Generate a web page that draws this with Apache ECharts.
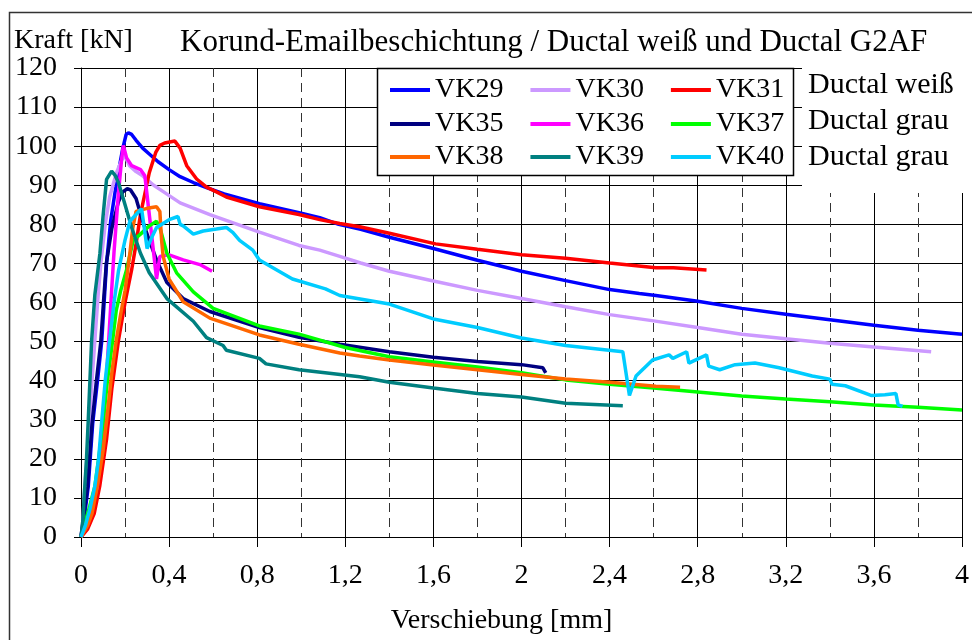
<!DOCTYPE html>
<html><head><meta charset="utf-8">
<script src="https://cdn.jsdelivr.net/npm/echarts@6/dist/echarts.min.js"></script>
<style>html,body{margin:0;padding:0;background:#fff}#c{width:972px;height:640px}</style>
</head><body><div id="c"></div>
<script>
// ---- data ----
const titleText = 'Korund-Emailbeschichtung / Ductal weiß und Ductal G2AF';
const yAxisName = 'Kraft [kN]';
const xAxisName = 'Verschiebung [mm]';
const groupLabels = ['Ductal weiß', 'Ductal grau', 'Ductal grau'];
const seriesNames = ['VK29','VK30','VK31','VK35','VK36','VK37','VK38','VK39','VK40'];
const seriesColors = ['#0000FF','#CC99FF','#FF0000','#000080','#FF00FF','#00FF00','#FF6600','#008080','#00CCFF'];

const vk29 = [[0,0],[0.015,5],[0.033,13],[0.053,29],[0.075,40],[0.094,50],[0.105,60],[0.116,70],[0.135,81],[0.154,88],[0.175,95],[0.19,99.5],[0.205,103],[0.215,103.4],[0.23,103],[0.25,101.5],[0.28,99.5],[0.31,98],[0.35,96],[0.40,94],[0.45,92.2],[0.51,90.7],[0.57,89.4],[0.65,87.8],[0.81,85.3],[0.99,83],[1.084,81.7],[1.17,80],[1.27,78.7],[1.40,76.7],[1.60,73.8],[1.80,70.8],[2.0,68],[2.2,65.6],[2.4,63.3],[2.535,62.3],[2.61,61.8],[2.8,60.3],[3.0,58.5],[3.2,57],[3.4,55.6],[3.6,54.2],[3.8,52.9],[4.0,51.9]];
const vk30 = [[0,0],[0.01,5],[0.014,10],[0.033,25],[0.05,40],[0.065,52],[0.078,62],[0.09,70],[0.11,80],[0.13,87],[0.16,93],[0.185,96.5],[0.2,97.5],[0.22,95],[0.25,93.5],[0.28,92.4],[0.33,90],[0.37,88.5],[0.45,85.5],[0.585,82.5],[0.81,78],[0.99,74.6],[1.084,73.4],[1.175,71.8],[1.27,70.1],[1.4,68],[1.6,65.5],[1.8,63.1],[2.0,61],[2.2,58.9],[2.4,56.9],[2.6,55.3],[2.8,53.6],[3.0,51.9],[3.2,50.7],[3.4,49.6],[3.6,48.6],[3.86,47.4]];
const vk31 = [[0,0],[0.03,2],[0.06,6],[0.085,13],[0.116,25],[0.14,38],[0.17,50.3],[0.2,60],[0.23,68.4],[0.25,75],[0.27,82.5],[0.31,93.2],[0.34,98.5],[0.358,100.2],[0.38,100.8],[0.426,101.3],[0.45,99.5],[0.48,95],[0.525,91.6],[0.57,89.5],[0.615,88.3],[0.66,87],[0.81,84.5],[0.99,82.5],[1.084,81.2],[1.175,80.2],[1.265,79.4],[1.4,77.7],[1.61,75],[1.8,73.6],[2.0,72.2],[2.2,71.3],[2.4,70.1],[2.61,68.9],[2.69,68.9],[2.84,68.3]];
const vk35 = [[0,0],[0.012,5],[0.03,13],[0.05,29],[0.07,40],[0.09,50],[0.102,60],[0.115,70],[0.14,79],[0.17,85.8],[0.19,88.3],[0.21,89.1],[0.225,88.8],[0.25,86.6],[0.28,80.8],[0.31,75.9],[0.343,70.9],[0.39,65.1],[0.464,61],[0.585,57.7],[0.81,53.6],[0.99,51.1],[1.175,49.3],[1.4,47.4],[1.6,46],[1.8,44.9],[2.0,44.1],[2.097,43.3],[2.11,42]];
const vk36 = [[0,0],[0.02,3],[0.04,6],[0.074,13],[0.1,28],[0.12,45],[0.139,63],[0.15,73],[0.17,88],[0.185,97],[0.192,100.2],[0.2,98.5],[0.207,97],[0.23,95],[0.27,94],[0.29,92.4],[0.305,85],[0.33,72.6],[0.343,66],[0.358,71.8],[0.40,72.2],[0.464,70.9],[0.54,69.7],[0.595,68]];
const vk37 = [[0,0],[0.02,4],[0.04,8],[0.063,13],[0.08,20],[0.1,29],[0.12,40],[0.143,50],[0.16,58],[0.18,63],[0.207,68.4],[0.237,75.9],[0.27,77.5],[0.31,79.6],[0.343,80.8],[0.358,79.2],[0.39,72.6],[0.434,67.6],[0.51,62.7],[0.60,58.5],[0.81,54],[0.99,51.9],[1.2,48.5],[1.4,46.1],[1.6,44.8],[1.8,43.5],[2.0,42.0],[2.2,40.2],[2.4,39.1],[2.6,38.1],[2.8,37.1],[3.0,36.1],[3.2,35.3],[3.4,34.6],[3.6,33.8],[3.8,33.2],[4.0,32.5]];
const vk38 = [[0,0],[0.03,3],[0.05,6],[0.074,13],[0.1,22],[0.116,29.6],[0.14,42],[0.16,50.3],[0.18,57],[0.2,63],[0.222,72.6],[0.235,79],[0.25,83.3],[0.3,84.1],[0.343,84.5],[0.358,83.3],[0.366,75.9],[0.373,71.8],[0.40,66],[0.464,60.2],[0.585,56],[0.81,51.7],[0.99,49.3],[1.175,47.1],[1.265,46.3],[1.4,45.3],[1.6,44],[1.8,42.8],[2.0,41.6],[2.2,40.4],[2.4,39.6],[2.61,38.6],[2.72,38.3]];
const vk39 = [[0,0],[0.01,5],[0.014,10],[0.025,20],[0.033,30],[0.048,50],[0.063,62],[0.086,72.6],[0.1,82],[0.116,91.5],[0.139,93.6],[0.155,92.5],[0.17,90.7],[0.2,85],[0.23,79.2],[0.27,72.6],[0.31,67.6],[0.39,61],[0.51,55.2],[0.57,51],[0.645,49],[0.66,47.8],[0.81,45.7],[0.84,44.3],[0.99,42.8],[1.265,41],[1.4,39.6],[1.6,38.1],[1.8,36.7],[2.0,35.8],[2.2,34.2],[2.46,33.6]];
const vk40 = [[0,0],[0.02,3],[0.04,7],[0.063,13],[0.08,20],[0.094,29.6],[0.11,40],[0.13,50.3],[0.15,60],[0.17,68],[0.2,76],[0.222,80.8],[0.25,82.5],[0.275,84],[0.29,78],[0.30,73.8],[0.32,76.5],[0.343,79.2],[0.40,81.2],[0.44,82],[0.45,80],[0.464,79.6],[0.51,77.5],[0.555,78.3],[0.615,78.8],[0.66,79.2],[0.69,77.9],[0.72,75.9],[0.78,73.4],[0.81,70.9],[0.96,66],[1.11,63.5],[1.175,61.8],[1.4,59.6],[1.6,55.8],[1.8,53.6],[2.0,50.9],[2.2,49.0],[2.46,47.4],[2.49,36.2],[2.52,41.2],[2.535,42],[2.595,45.3],[2.67,46.6],[2.687,45.7],[2.75,47.4],[2.76,44.5],[2.84,46.6],[2.85,43.7],[2.9,42.8],[2.97,44.1],[3.06,44.5],[3.17,43.3],[3.32,41.2],[3.4,40.4],[3.41,39.1],[3.47,38.7],[3.59,36.2],[3.65,36.4],[3.70,36.7],[3.71,33.8],[3.73,33.4]];
const seriesData = [vk29, vk30, vk31, vk35, vk36, vk37, vk38, vk39, vk40];
const legendRows = [['VK29','VK30','VK31'],['VK35','VK36','VK37'],['VK38','VK39','VK40']];

// ---- chart ----
const FONT = '"Liberation Serif","Times New Roman",serif';
const chart = echarts.init(document.getElementById('c'), null, {renderer:'canvas'});
const fmtX = v => String(+(+v).toFixed(1)).replace('.', ',');

const legendTops = [76, 110, 143];
const option = {
  animation: false,
  backgroundColor: '#fff',
  grid: {left: 81, right: 9, top: 68, bottom: 87},
  xAxis: {
    type: 'value', min: 0, max: 4, interval: 0.4,
    name: xAxisName, nameLocation: 'middle', nameGap: 70,
    nameTextStyle: {fontFamily: FONT, fontSize: 28, color: '#000', padding: [0, 40, 0, 0]},
    axisLine: {show: true, lineStyle: {color: '#000', width: 1}},
    axisTick: {show: true, length: 10, lineStyle: {color: '#000'}},
    axisLabel: {fontFamily: FONT, fontSize: 28, color: '#000', margin: 25, formatter: fmtX},
    splitLine: {show: true, lineStyle: {color: '#000', width: 1}},
    minorTick: {show: false, splitNumber: 2},
    minorSplitLine: {show: true, lineStyle: {color: '#333', width: 1, type: [9, 6]}}
  },
  yAxis: {
    type: 'value', min: 0, max: 120, interval: 10,
    axisLine: {show: true, lineStyle: {color: '#000', width: 1}},
    axisTick: {show: true, length: 7, lineStyle: {color: '#000'}},
    axisLabel: {fontFamily: FONT, fontSize: 28, color: '#000', margin: 24, padding: [4, 0, 0, 0]},
    splitLine: {show: true, lineStyle: {color: '#000', width: 1}}
  },
  legend: legendRows.map((row, i) => ({
    data: row.map(n => ({name: n, icon: 'rect'})), left: 390, top: legendTops[i], padding: 0,
    itemWidth: 40, itemHeight: 4, itemGap: 27, selectedMode: false, z: 20,
    textStyle: {fontFamily: FONT, fontSize: 28, color: '#000'}
  })),
  series: seriesNames.map((n, i) => ({
    name: n, type: 'line', data: seriesData[i], symbol: 'none', showSymbol: false,
    lineStyle: {color: seriesColors[i], width: 3.5}, itemStyle: {color: seriesColors[i]},
    z: 2
  })),
  graphic: [
    {type: 'rect', z: 30, shape: {x: 9.5, y: 12.5, width: 1000, height: 1000}, style: {fill: 'none', stroke: '#333', lineWidth: 1.5}},
    {type: 'rect', z: 10, shape: {x: 377.5, y: 68.5, width: 416, height: 107}, style: {fill: '#fff', stroke: '#000', lineWidth: 1.5}},
    {type: 'rect', z: 10, shape: {x: 802, y: 60, width: 170, height: 133}, style: {fill: '#fff'}},
    {type: 'text', z: 11, style: {text: titleText, x: 180, y: 43, verticalAlign: 'middle', font: '31px ' + FONT, fill: '#000'}},
    {type: 'text', z: 11, style: {text: yAxisName, x: 14, y: 41, verticalAlign: 'middle', font: '28px ' + FONT, fill: '#000'}},
    {type: 'text', z: 11, style: {text: groupLabels[0], x: 808, y: 85, verticalAlign: 'middle', font: '30px ' + FONT, fill: '#000'}},
    {type: 'text', z: 11, style: {text: groupLabels[1], x: 808, y: 121.5, verticalAlign: 'middle', font: '30px ' + FONT, fill: '#000'}},
    {type: 'text', z: 11, style: {text: groupLabels[2], x: 808, y: 157, verticalAlign: 'middle', font: '30px ' + FONT, fill: '#000'}}
  ]
};
chart.setOption(option);
</script></body></html>
